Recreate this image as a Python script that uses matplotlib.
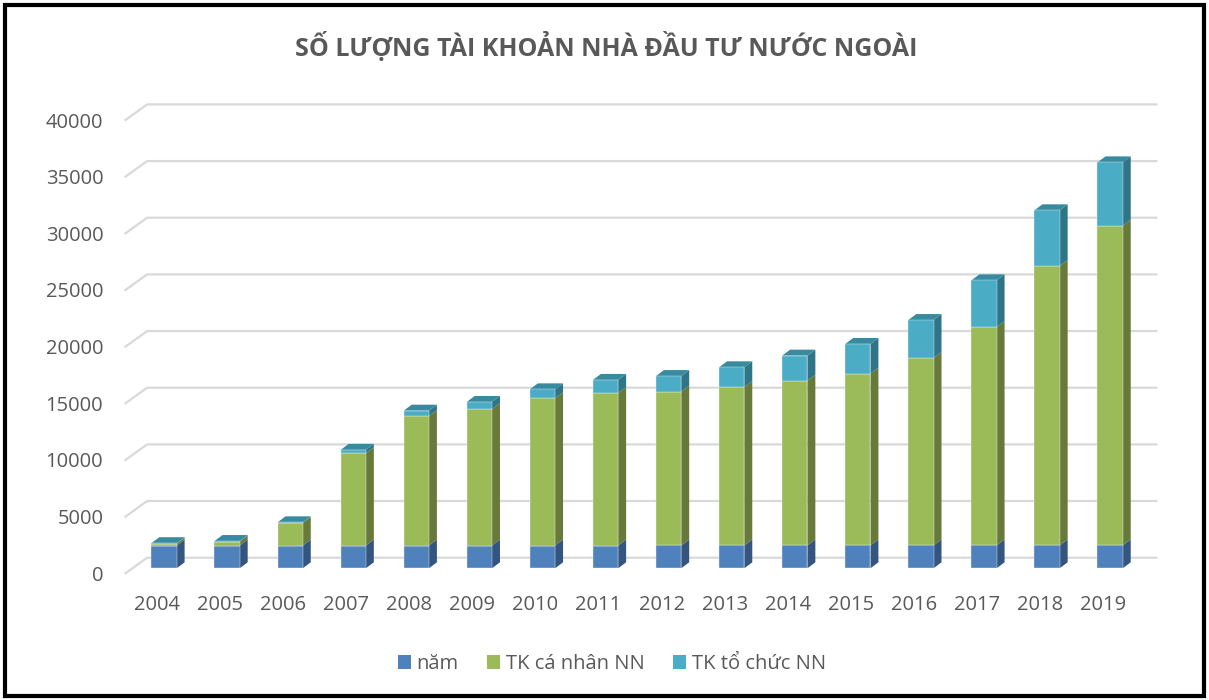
import matplotlib.pyplot as plt
import matplotlib.transforms as mtransforms
from matplotlib.patches import Polygon, Rectangle, Patch
from matplotlib.lines import Line2D

plt.rcParams['font.family'] = ['Open Sans', 'DejaVu Sans']

# du lieu doc tu bieu do
years = ['2004', '2005', '2006', '2007', '2008', '2009', '2010', '2011',
         '2012', '2013', '2014', '2015', '2016', '2017', '2018', '2019']
nam = [2004, 2005, 2006, 2007, 2008, 2009, 2010, 2011,
       2012, 2013, 2014, 2015, 2016, 2017, 2018, 2019]
ca_nhan = [170, 340, 1990, 8140, 11430, 12050, 12990, 13460,
           13580, 13980, 14540, 15160, 16540, 19270, 24660, 28210]
to_chuc = [40, 60, 60, 300, 470, 620, 790, 1150,
           1370, 1740, 2210, 2620, 3350, 4120, 4910, 5590]

ten = ['năm', 'TK cá nhân NN', 'TK tổ chức NN']
mau_truoc = ['#4F81BD', '#9BBB59', '#4BACC6']
mau_ben = ['#34557F', '#677A3A', '#2E7588']
mau_tren = '#388A9F'
xam = '#595959'

W, H = 1209, 700
fig = plt.figure(figsize=(W / 100, H / 100), dpi=100)
ax = fig.add_axes([132.45 / W, 131.7 / H, 1009.2 / W, 453.3 / H])
ax.set_xlim(-0.5, 15.5)
ax.set_ylim(0, 40000)
for s in ax.spines.values():
    s.set_visible(False)
ax.set_facecolor('none')

# do sau gia 3D (pixel)
dx_bar, dy_bar = 8, 6
dx_front, dy_front = -7, -5
dx_back, dy_back = 14.7, 10.6

def px(x, y, dx=0, dy=0):
    p = ax.transData.transform((x, y))
    return (p[0] + dx, p[1] + dy)

ident = mtransforms.IdentityTransform()

# luoi ngang
yt = [0, 5000, 10000, 15000, 20000, 25000, 30000, 35000, 40000]
for v in yt:
    p1 = px(-0.5, v, dx_front, dy_front)
    p2 = px(-0.5, v, dx_back, dy_back)
    p3 = px(15.5, v, dx_back, dy_back)
    ln = Line2D([p1[0], p2[0], p3[0]], [p1[1], p2[1], p3[1]],
                color='#D9D9D9', lw=1.6, transform=ident, zorder=0.5,
                clip_on=False)
    ax.add_line(ln)

# cot chong
x = list(range(len(years)))
w = 0.4
series = [nam, ca_nhan, to_chuc]
bottom = [0] * len(x)
for k, vals in enumerate(series):
    ax.bar(x, vals, w, bottom=bottom, color=mau_truoc[k],
           edgecolor='#E8EEF5', linewidth=0.3, zorder=3, label=ten[k])
    for i in x:
        b = bottom[i]
        t = b + vals[i]
        xr = i + w / 2
        side = [px(xr, b), px(xr, b, dx_bar, dy_bar),
                px(xr, t, dx_bar, dy_bar), px(xr, t)]
        ax.add_patch(Polygon(side, closed=True, facecolor=mau_ben[k],
                             edgecolor='none', transform=ident, zorder=2,
                             clip_on=False))
        if k == len(series) - 1:
            xl = i - w / 2
            top = [px(xl, t), px(xr, t), px(xr, t, dx_bar, dy_bar),
                   px(xl, t, dx_bar, dy_bar)]
            ax.add_patch(Polygon(top, closed=True, facecolor=mau_tren,
                                 edgecolor='none', transform=ident,
                                 zorder=2, clip_on=False))
    bottom = [bottom[i] + vals[i] for i in x]

ax.set_xlim(-0.5, 15.5)
ax.set_ylim(0, 40000)

# nhan truc
ax.set_yticks(yt)
ax.set_yticklabels([str(v) for v in yt], fontsize=14.5, color=xam)
ax.set_xticks(x)
ax.set_xticklabels(years, fontsize=14.5, color=xam)
ax.tick_params(axis='both', length=0)
ax.tick_params(axis='y', pad=21)
ax.tick_params(axis='x', pad=19)
for lab in ax.get_yticklabels():
    lab.set_transform(lab.get_transform() +
                      mtransforms.ScaledTranslation(0, dy_front / 100, fig.dpi_scale_trans))
for lab in ax.get_xticklabels():
    lab.set_transform(lab.get_transform() +
                      mtransforms.ScaledTranslation(dx_front / 100, 0, fig.dpi_scale_trans))

fig.text(0.5016, 1 - 47 / H, 'SỐ LƯỢNG TÀI KHOẢN NHÀ ĐẦU TƯ NƯỚC NGOÀI',
         ha='center', va='center', fontsize=18, fontweight='bold', color=xam)

handles = [Patch(facecolor=mau_truoc[k], edgecolor='none') for k in range(3)]
fig.legend(handles, ten, loc='center', bbox_to_anchor=(612 / W, 36 / H),
           ncol=3, frameon=False, fontsize=14.5, labelcolor=xam,
           handlelength=0.65, handleheight=0.65, handletextpad=0.3,
           columnspacing=1.4)

# khung den
fig.add_artist(Rectangle((5 / W, 4 / H), 1 - 10 / W, 1 - 9 / H,
                         transform=fig.transFigure, fill=False,
                         edgecolor='black', linewidth=3))

fig.savefig('out.png', dpi=100)
